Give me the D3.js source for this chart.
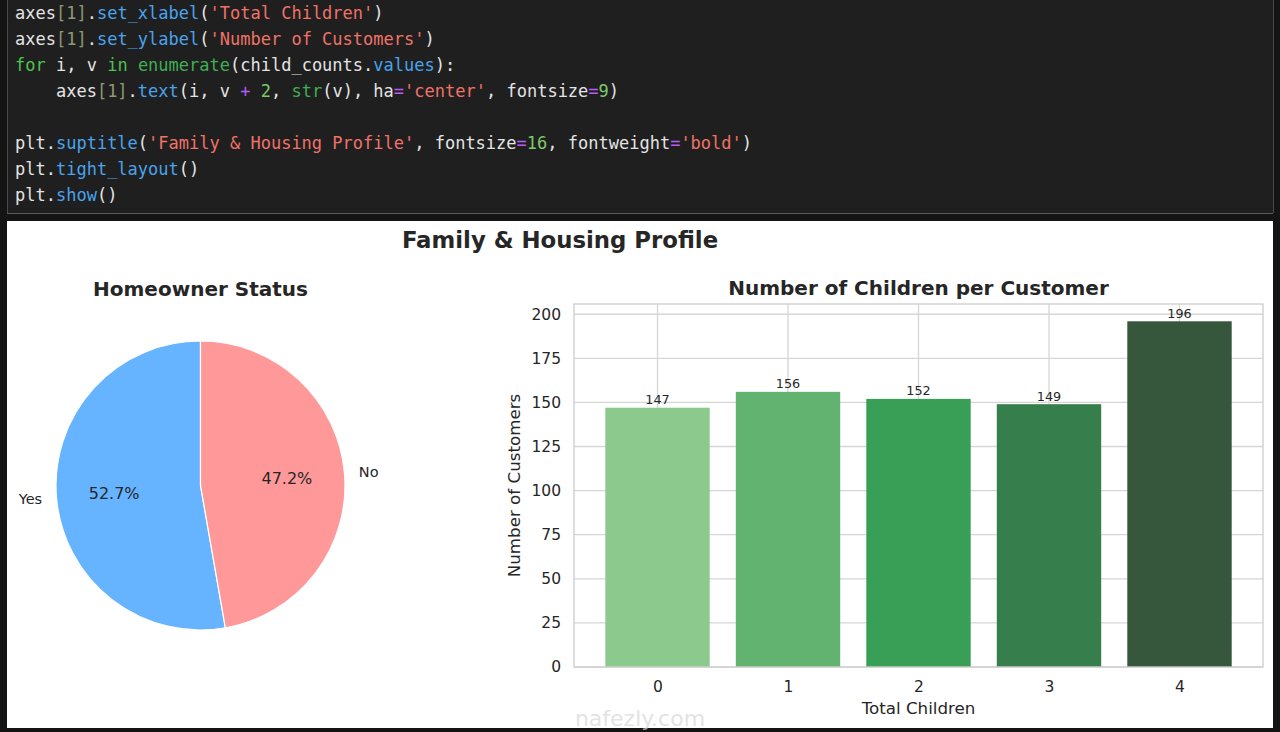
<!DOCTYPE html>
<html><head><meta charset="utf-8">
<script src="https://cdn.jsdelivr.net/npm/d3@7"></script>
<style>
html,body{margin:0;padding:0;background:#141414;}
svg{display:block;}
text{font-family:"DejaVu Sans",sans-serif;}
.code text{font-family:"DejaVu Sans Mono",monospace;font-size:17px;white-space:pre;}
</style></head>
<body>
<svg id="c" width="1280" height="732"></svg>
<script>
// ---- data ----
const pieLabels = ["Yes", "No"];
const pieValues = [52.7, 47.2];
const pieColors = ["#66b3ff", "#ff9999"];

const barCategories = [0, 1, 2, 3, 4];
const barValues = [147, 156, 152, 149, 196];
const barColors = ["#8bca8c", "#62b370", "#3a9f56", "#367f4d", "#37573d"];
const yTicks = [0, 25, 50, 75, 100, 125, 150, 175, 200];

const codeLines = [
  [["axes","t"],["[1]","b"],[".","t"],["set_xlabel","m"],["(","t"],["'Total Children'","s"],[")","t"]],
  [["axes","t"],["[1]","b"],[".","t"],["set_ylabel","m"],["(","t"],["'Number of Customers'","s"],[")","t"]],
  [["for","k"],[" i, v ","t"],["in","k"],[" ","t"],["enumerate","f"],["(child_counts.","t"],["values","m"],["):","t"]],
  [["    axes","t"],["[1]","b"],[".","t"],["text","m"],["(i, v ","t"],["+","o"],[" ","t"],["2","n"],[", ","t"],["str","f"],["(v), ha","t"],["=","o"],["'center'","s"],[", fontsize","t"],["=","o"],["9","n"],[")","t"]],
  [],
  [["plt.","t"],["suptitle","m"],["(","t"],["'Family & Housing Profile'","s"],[", fontsize","t"],["=","o"],["16","n"],[", fontweight","t"],["=","o"],["'bold'","s"],[")","t"]],
  [["plt.","t"],["tight_layout","m"],["()","t"]],
  [["plt.","t"],["show","m"],["()","t"]]
];
const codeColors = {t:"#e4e4e4", b:"#8c9a72", m:"#4aa3ec", s:"#f07268", k:"#4ec34e", f:"#3fae55", o:"#b45cf5", n:"#7ec96a"};

const svg = d3.select("#c");

// ---- code panel ----
svg.append("rect").attr("x",7).attr("y",0).attr("width",1266).attr("height",213)
  .attr("fill","#1f1f1f");
svg.append("line").attr("x1",7).attr("x2",1273).attr("y1",213.5).attr("y2",213.5).attr("stroke","#5a5a5a");
svg.append("line").attr("x1",7.5).attr("x2",7.5).attr("y1",0).attr("y2",213).attr("stroke","#4a4a4a");
svg.append("line").attr("x1",1273.5).attr("x2",1273.5).attr("y1",0).attr("y2",213).attr("stroke","#4a4a4a");
const code = svg.append("g").attr("class","code");
codeLines.forEach((line,i)=>{
  const t = code.append("text").attr("x",15).attr("y",19+i*26).attr("xml:space","preserve");
  line.forEach(tok=>t.append("tspan").attr("fill",codeColors[tok[1]]).text(tok[0]));
});

// ---- figure ----
svg.append("rect").attr("x",7).attr("y",221).attr("width",1266).attr("height",507).attr("fill","#ffffff");
svg.append("text").attr("x",560).attr("y",248).attr("text-anchor","middle")
  .attr("font-size",22.8).attr("font-weight","bold").attr("fill","#262626").text("Family & Housing Profile");

// ---- pie ----
const cx = 200.5, cy = 485.5, R = 144.5;
const pg = svg.append("g").attr("transform",`translate(${cx},${cy})`);
pg.append("text").attr("x",0).attr("y",-190).attr("text-anchor","middle")
  .attr("font-size",20).attr("font-weight","bold").attr("fill","#262626").text("Homeowner Status");
const pie = d3.pie().sort(null).startAngle(0).endAngle(-2*Math.PI);
const arcs = pie(pieValues);
const arc = d3.arc().innerRadius(0).outerRadius(R);
pg.selectAll("path.w").data(arcs).join("path").attr("class","w")
  .attr("d",arc).attr("fill",(d,i)=>pieColors[i]).attr("stroke","#ffffff").attr("stroke-width",1.2);
const lblArc = d3.arc().innerRadius(R*1.1).outerRadius(R*1.1);
const pctArc = d3.arc().innerRadius(R*0.6).outerRadius(R*0.6);
pg.selectAll("text.l").data(arcs).join("text").attr("class","l")
  .attr("x",d=>lblArc.centroid(d)[0]).attr("y",d=>lblArc.centroid(d)[1])
  .attr("text-anchor",d=>lblArc.centroid(d)[0]<0?"end":"start")
  .attr("dominant-baseline","central").attr("font-size",14.5).attr("fill","#262626")
  .text((d,i)=>pieLabels[i]);
pg.selectAll("text.p").data(arcs).join("text").attr("class","p")
  .attr("x",d=>pctArc.centroid(d)[0]).attr("y",d=>pctArc.centroid(d)[1])
  .attr("text-anchor","middle").attr("dominant-baseline","central")
  .attr("font-size",16).attr("fill","#262626")
  .text(d=>d3.format(".1f")(d.data)+"%");

// ---- bar chart ----
const L = 574, Rr = 1263, T = 304, B = 667;
const x = d3.scaleLinear().domain([-0.64, 4.64]).range([L, Rr]);
const y = d3.scaleLinear().domain([0, 205.8]).range([B, T]);
const bg = svg.append("g");
// grid
bg.selectAll("line.gy").data(yTicks).join("line").attr("class","gy")
  .attr("x1",L).attr("x2",Rr).attr("y1",d=>y(d)).attr("y2",d=>y(d))
  .attr("stroke","#d6d6d6").attr("stroke-width",1.3);
bg.selectAll("line.gx").data(barCategories).join("line").attr("class","gx")
  .attr("x1",d=>x(d)).attr("x2",d=>x(d)).attr("y1",T).attr("y2",B)
  .attr("stroke","#d6d6d6").attr("stroke-width",1.3);
// bars
bg.selectAll("rect.bar").data(barValues).join("rect").attr("class","bar")
  .attr("x",(d,i)=>x(barCategories[i]-0.4)).attr("width",x(0.8)-x(0))
  .attr("y",d=>y(d)).attr("height",d=>B-y(d)).attr("fill",(d,i)=>barColors[i]);
// frame
bg.append("rect").attr("x",L).attr("y",T).attr("width",Rr-L).attr("height",B-T)
  .attr("fill","none").attr("stroke","#d0d0d0").attr("stroke-width",1.4);
// value labels
bg.selectAll("text.v").data(barValues).join("text").attr("class","v")
  .attr("x",(d,i)=>x(barCategories[i])).attr("y",d=>y(d+2))
  .attr("text-anchor","middle").attr("font-size",12.8).attr("fill","#262626").text(d=>d);
// axes ticks
const yAxis = d3.axisLeft(y).tickValues(yTicks).tickSize(0).tickPadding(13);
const ya = bg.append("g").attr("transform",`translate(${L},0)`).call(yAxis);
const xAxis = d3.axisBottom(x).tickValues(barCategories).tickFormat(d3.format("d")).tickSize(0).tickPadding(14);
const xa = bg.append("g").attr("transform",`translate(0,${B})`).call(xAxis);
[ya,xa].forEach(a=>{
  a.select(".domain").remove();
  a.selectAll("text").attr("font-size",15.5).attr("fill","#262626").attr("font-family","DejaVu Sans");
});
// titles
bg.append("text").attr("x",(L+Rr)/2).attr("y",295).attr("text-anchor","middle")
  .attr("font-size",20).attr("font-weight","bold").attr("fill","#262626").text("Number of Children per Customer");
bg.append("text").attr("x",(L+Rr)/2).attr("y",714).attr("text-anchor","middle")
  .attr("font-size",16.7).attr("fill","#262626").text("Total Children");
bg.append("text").attr("transform",`translate(520,${(T+B)/2}) rotate(-90)`).attr("text-anchor","middle")
  .attr("font-size",16.7).attr("fill","#262626").text("Number of Customers");

// watermark
svg.append("text").attr("x",640).attr("y",726).attr("text-anchor","middle")
  .attr("font-size",22).attr("fill","#d8d8d8").attr("opacity",0.7).text("nafezly.com");
</script>
</body></html>
